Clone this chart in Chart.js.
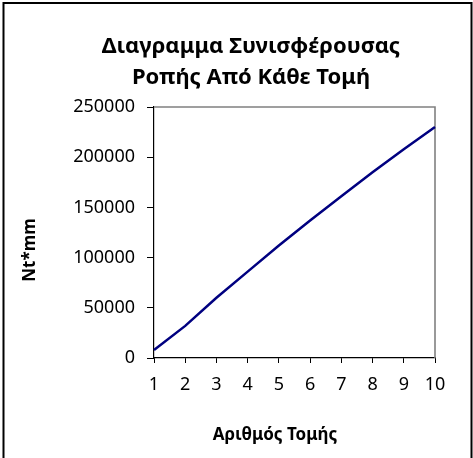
<!DOCTYPE html>
<html>
<head>
<meta charset="utf-8">
<script src="https://cdn.jsdelivr.net/npm/chart.js"></script>
<style>
  html, body { margin: 0; padding: 0; background: #fff; }
  #wrap { width: 473px; height: 458px; }
</style>
</head>
<body>
<div id="wrap"><canvas id="moment-chart" width="473" height="458"></canvas></div>
<script>
// data
const sections = ['1', '2', '3', '4', '5', '6', '7', '8', '9', '10'];
const moments = [8000, 32000, 60000, 86000, 112000, 137000, 161000, 185000, 208000, 230000];
const yTicks = [0, 50000, 100000, 150000, 200000, 250000];
const chartTitle = ['Διαγραμμα Συνισφέρουσας', 'Ροπής Από Κάθε Τομή'];
const xTitle = 'Αριθμός Τομής';
const yTitle = 'Nt*mm';

const FONT = '"Noto Sans", "DejaVu Sans", sans-serif';

/* plot frame, outer border and the three titles */
const excelLook = {
    id: 'excelLook',
    beforeDraw(chart) {
        const c = chart.ctx;
        c.save();
        c.fillStyle = '#fff';
        c.fillRect(0, 0, chart.width, chart.height);
        c.restore();
    },
    beforeDatasetsDraw(chart) {
        const c = chart.ctx, a = chart.chartArea;
        c.save();
        c.strokeStyle = '#808080';
        c.lineWidth = 1.6;
        c.beginPath();
        c.moveTo(a.left, a.top);
        c.lineTo(a.right, a.top);
        c.lineTo(a.right, a.bottom);
        c.stroke();
        c.restore();
    },
    afterDraw(chart) {
        const c = chart.ctx;
        c.save();
        c.strokeStyle = '#000';
        c.lineWidth = 2;
        c.beginPath();
        c.moveTo(3.5, 460);
        c.lineTo(3.5, 3);
        c.lineTo(471.5, 3);
        c.lineTo(471.5, 460);
        c.stroke();

        c.fillStyle = '#000';
        c.textAlign = 'center';
        c.textBaseline = 'alphabetic';
        c.font = 'bold 22px ' + FONT;
        c.fillText(chartTitle[0], 251, 53);
        c.fillText(chartTitle[1], 251, 84);

        c.font = 'bold 17px ' + FONT;
        c.fillText(xTitle, 275, 440);

        c.font = 'bold 17px ' + FONT;
        c.translate(35, 250);
        c.rotate(-Math.PI / 2);
        c.fillText(yTitle, 0, 0);
        c.restore();
    }
};

let ctx = document.querySelector('#moment-chart').getContext('2d');

let chart = new Chart(ctx, {
    type: 'line',
    data: {
        labels: sections,
        datasets: [{
            data: moments,
            borderColor: '#000080',
            borderWidth: 2.5,
            pointRadius: 0,
            tension: 0,
            fill: false
        }]
    },
    options: {
        responsive: false,
        animation: false,
        layout: { padding: { top: 107, right: 38, left: 0, bottom: 0 } },
        plugins: {
            legend: { display: false },
            title: { display: false },
            tooltip: { enabled: false }
        },
        scales: {
            x: {
                offset: false,
                afterFit: s => { s.height = 100; },
                grid: { drawOnChartArea: false, drawTicks: true, tickLength: 5, color: '#000' },
                border: { display: true, color: '#000', width: 1.2 },
                ticks: {
                    autoSkip: false, maxRotation: 0, padding: 11,
                    color: '#000', font: { family: FONT, size: 18 }
                }
            },
            y: {
                min: 0,
                max: 250000,
                afterFit: s => { s.width = 154; },
                afterBuildTicks: s => { s.ticks = yTicks.map(v => ({ value: v })); },
                grid: { drawOnChartArea: false, drawTicks: true, tickLength: 7, color: '#000' },
                border: { display: true, color: '#000', width: 1.2 },
                ticks: {
                    padding: 12,
                    color: '#000',
                    font: { family: FONT, size: 18 },
                    callback: v => String(v)
                }
            }
        }
    },
    plugins: [excelLook]
});
</script>
</body>
</html>
